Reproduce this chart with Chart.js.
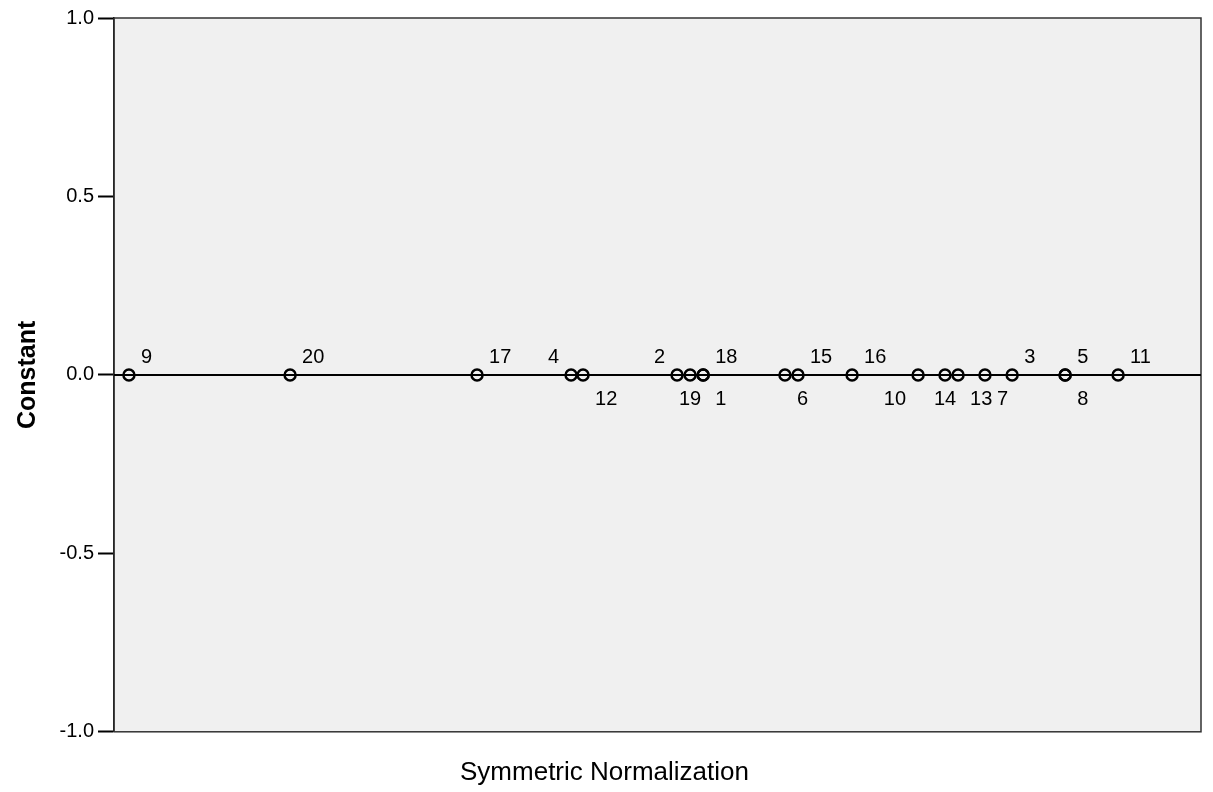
<!DOCTYPE html>
<html>
<head>
<meta charset="utf-8">
<script src="https://cdn.jsdelivr.net/npm/chart.js@4/dist/chart.umd.min.js"></script>
<style>
  body { margin: 0; background: #fff; }
  #wrap { width: 1213px; height: 792px; }
</style>
</head>
<body>
<div id="wrap"><canvas id="myChart"></canvas></div>
<script>
// object labels and their scores on the two dimensions
var caseLabels = ['9', '20', '17', '4', '12', '2', '19', '1', '18', '6', '15', '16', '10', '14', '13', '7', '3', '5', '8', '11'];
var normScores = [-1.945, -1.352, -0.664, -0.318, -0.274, 0.072, 0.120, 0.168, 0.168, 0.469, 0.517, 0.716, 0.959, 1.058, 1.106, 1.205, 1.305, 1.500, 1.500, 1.695];
var constScores = [0, 0, 0, 0, 0, 0, 0, 0, 0, 0, 0, 0, 0, 0, 0, 0, 0, 0, 0, 0];
var yTicks = [-1.0, -0.5, 0.0, 0.5, 1.0];

// where each point label sits relative to its marker
var labelAnchor = ['ne', 'ne', 'ne', 'nw', 'se', 'nw', 's', 'se', 'ne', 'se', 'ne', 'ne', 'sw', 's', 'se', 'se', 'ne', 'ne', 'se', 'ne'];

var points = normScores.map(function (v, i) {
    return { x: v, y: constScores[i] };
});

var fontName = "'Liberation Sans', Arial, sans-serif";

var plotBack = {
    id: 'plotBack',
    beforeDraw: function (chart) {
        var a = chart.chartArea;
        var ctx = chart.ctx;
        ctx.save();
        ctx.fillStyle = '#f0f0f0';
        ctx.fillRect(a.left, a.top, a.right - a.left, a.bottom - a.top);
        ctx.restore();
    },
    beforeDatasetsDraw: function (chart) {
        var a = chart.chartArea;
        var ctx = chart.ctx;
        var y0 = chart.scales.y.getPixelForValue(0);
        ctx.save();
        ctx.strokeStyle = '#333333';
        ctx.lineWidth = 1.5;
        ctx.strokeRect(a.left, a.top, a.right - a.left, a.bottom - a.top);
        ctx.strokeStyle = '#000';
        ctx.lineWidth = 2;
        ctx.beginPath();
        ctx.moveTo(a.left, y0);
        ctx.lineTo(a.right, y0);
        ctx.stroke();
        ctx.restore();
    }
};

var pointLabels = {
    id: 'pointLabels',
    afterDatasetsDraw: function (chart) {
        var ctx = chart.ctx;
        var meta = chart.getDatasetMeta(0);
        ctx.save();
        ctx.font = '20px ' + fontName;
        ctx.fillStyle = '#000';
        ctx.textBaseline = 'alphabetic';
        meta.data.forEach(function (el, i) {
            var an = labelAnchor[i];
            var tx = el.x, ty = el.y;
            ty += (an.charAt(0) === 'n') ? -12 : 30;
            if (an.indexOf('e') > 0) { ctx.textAlign = 'left'; tx += 12; }
            else if (an.indexOf('w') > 0) { ctx.textAlign = 'right'; tx -= 12; }
            else { ctx.textAlign = 'center'; }
            ctx.fillText(caseLabels[i], tx, ty);
        });
        ctx.restore();
    }
};

var ctx = document.getElementById('myChart').getContext('2d');

var scoreChart = new Chart(ctx, {
    type: 'scatter',
    data: {
        datasets: [{
            data: points,
            pointRadius: 5.5,
            pointHoverRadius: 5.5,
            borderWidth: 2.5,
            borderColor: '#000',
            backgroundColor: 'rgba(0,0,0,0)'
        }]
    },
    options: {
        responsive: true,
        maintainAspectRatio: false,
        animation: false,
        layout: { padding: { left: 8, right: 12, top: 18, bottom: 0 } },
        plugins: {
            legend: { display: false },
            tooltip: { enabled: false },
            title: {
                display: true,
                position: 'bottom',
                text: 'Symmetric Normalization',
                color: '#000',
                font: { family: fontName, size: 26, weight: 'normal' },
                padding: { top: 25, bottom: 4 }
            }
        },
        scales: {
            x: {
                type: 'linear',
                display: false,
                min: -2,
                max: 2
            },
            y: {
                min: -1,
                max: 1,
                afterBuildTicks: function (scale) {
                    scale.ticks = yTicks.map(function (v) { return { value: v }; });
                },
                afterFit: function (scale) { scale.width = 106; },
                ticks: {
                    color: '#000',
                    font: { family: fontName, size: 20 },
                    padding: 4,
                    callback: function (v) { return Number(v).toFixed(1); }
                },
                grid: {
                    drawOnChartArea: false,
                    drawTicks: true,
                    tickLength: 16,
                    tickWidth: 2,
                    tickColor: '#000'
                },
                border: { display: true, color: '#000', width: 1.5 },
                title: {
                    display: true,
                    text: 'Constant',
                    color: '#000',
                    font: { family: fontName, size: 25, weight: 'bold' },
                    padding: { top: 5, bottom: 0 }
                }
            }
        }
    },
    plugins: [plotBack, pointLabels]
});
</script>
</body>
</html>
